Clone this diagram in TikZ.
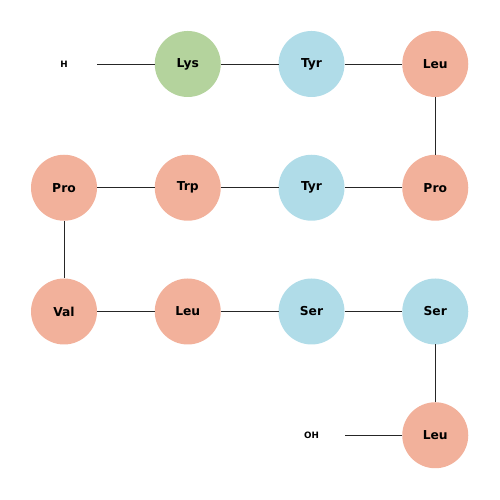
\documentclass[tikz,border=0pt]{standalone}
\usepackage{fontspec}
\setmainfont{DejaVu Sans}
\usepackage{tikz}
\usetikzlibrary{positioning}

\definecolor{hydrophobic}{HTML}{F2B19B}
\definecolor{polar}{HTML}{B0DCE8}
\definecolor{charged}{HTML}{B4D39D}

\begin{document}
\begin{tikzpicture}[
  node distance=11.55mm and 11.55mm,
  every node/.style={font=\bfseries\fontsize{7}{8}\selectfont},
  res/.style={circle, inner sep=0pt, outer sep=0pt, minimum size=13.2mm},
  hyd/.style={res, fill=hydrophobic},
  pol/.style={res, fill=polar},
  chg/.style={res, fill=charged},
  term/.style={res, font=\bfseries\fontsize{5}{6}\selectfont},
  bond/.style={line width=0.55pt, black!85}
]
\useasboundingbox (0,0) rectangle (10,10);
\node[term] (nterm) at (1.28,8.72) {H};
\node[chg, right=of nterm] (lys) {Lys};
\node[pol, right=of lys] (tyrA) {Tyr};
\node[hyd, right=of tyrA] (leuA) {Leu};
\node[hyd, below=of leuA] (proA) {Pro};
\node[pol, left=of proA] (tyrB) {Tyr};
\node[hyd, left=of tyrB] (trp) {Trp};
\node[hyd, left=of trp] (proB) {Pro};
\node[hyd, below=of proB] (val) {Val};
\node[hyd, right=of val] (leuB) {Leu};
\node[pol, right=of leuB] (serA) {Ser};
\node[pol, right=of serA] (serB) {Ser};
\node[hyd, below=of serB] (leuC) {Leu};
\node[term, left=of leuC] (cterm) {OH};

\draw[bond] (nterm) -- (lys);
\draw[bond] (lys) -- (tyrA);
\draw[bond] (tyrA) -- (leuA);
\draw[bond] (leuA) -- (proA);
\draw[bond] (proA) -- (tyrB);
\draw[bond] (tyrB) -- (trp);
\draw[bond] (trp) -- (proB);
\draw[bond] (proB) -- (val);
\draw[bond] (val) -- (leuB);
\draw[bond] (leuB) -- (serA);
\draw[bond] (serA) -- (serB);
\draw[bond] (serB) -- (leuC);
\draw[bond] (leuC) -- (cterm);
\end{tikzpicture}
\end{document}
